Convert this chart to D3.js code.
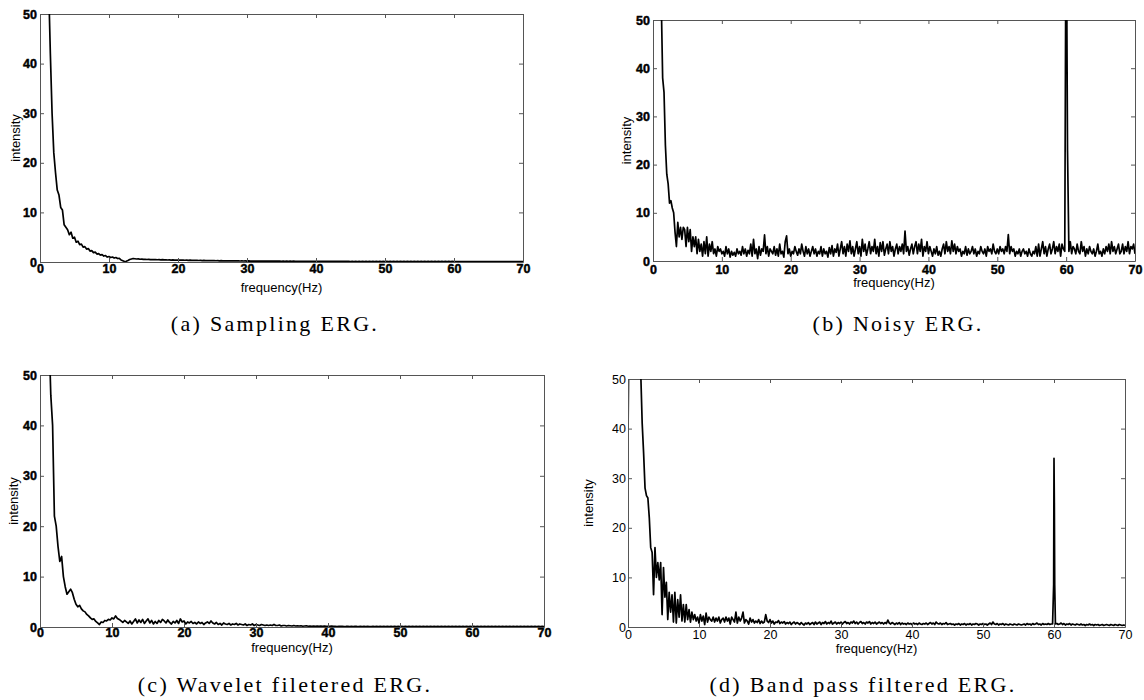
<!DOCTYPE html>
<html><head><meta charset="utf-8">
<script src="https://cdn.jsdelivr.net/npm/d3@7"></script>
<style>body{margin:0;background:#fff}</style>
</head><body>
<svg id="chart" width="1144" height="700"></svg>
<script>
// ---------------- DATA ----------------
const xTicks = [0, 10, 20, 30, 40, 50, 60, 70];
const yTicks = [0, 10, 20, 30, 40, 50];
const xLabel = "frequency(Hz)";
const yLabel = "intensity";
const captions = ["(a) Sampling ERG.", "(b) Noisy ERG.", "(c) Wavelet filetered ERG.", "(d) Band pass filtered ERG."];

// sample spacing (Hz) of each spectrum
const stepA = 0.25, stepB = 0.2, stepC = 0.25, stepD = 0.2;

// (a) Sampling ERG, 0..70 Hz
const sampling = [
120,110,95,85,70,56,42,30,22,18,
14.5,13.5,11,10.5,7.5,7.0,6.5,5.5,6.0,4.8,
5.0,4.0,4.2,3.5,3.6,3.0,3.1,2.6,2.7,2.2,
2.3,1.9,2.0,1.6,1.7,1.4,1.5,1.2,1.3,1.0,
1.1,0.9,1.0,0.8,0.9,0.7,0.75,0.4,0.25,0.1,
0.15,0.3,0.5,0.6,0.7,0.65,0.6,0.62,0.55,0.58,
0.52,0.55,0.5,0.53,0.48,0.5,0.46,0.49,0.45,0.47,0.43,0.46,0.42,0.44,0.4,0.43,0.39,0.41,0.38,0.4,
0.37,0.39,0.36,0.38,0.35,0.37,0.33,0.36,0.32,0.34,0.31,0.33,0.3,0.32,0.29,0.31,0.28,0.3,0.27,0.29,
0.26,0.28,0.25,0.27,0.24,0.26,0.23,0.25,0.23,0.24,0.22,0.24,0.21,0.23,0.21,0.22,0.2,0.22,0.2,0.21,
0.19,0.21,0.19,0.2,0.18,0.2,0.18,0.19,0.17,0.19,0.17,0.18,0.17,0.18,0.16,0.18,0.16,0.17,0.16,0.17,
0.15,0.17,0.15,0.16,0.15,0.16,0.14,0.16,0.14,0.15,0.14,0.15,0.14,0.15,0.13,0.15,0.13,0.14,0.13,0.14,
0.13,0.14,0.12,0.14,0.12,0.13,0.12,0.13,0.12,0.13,0.11,0.13,0.11,0.12,0.11,0.12,0.11,0.12,0.11,0.12,
0.1,0.12,0.1,0.11,0.1,0.11,0.1,0.11,0.1,0.11,0.1,0.11,0.1,0.11,0.1,0.11,0.1,0.11,0.1,0.11,
0.1,0.11,0.1,0.11,0.1,0.11,0.1,0.11,0.1,0.11,0.1,0.11,0.1,0.11,0.1,0.11,0.1,0.11,0.1,0.11,
0.1,0.11,0.1,0.11,0.1,0.11,0.1,0.11,0.1,0.11,0.1,0.11,0.1,0.11,0.1,0.11,0.1,0.11,0.1,0.11,
0.09,0.1,0.09,0.1,0.09,0.1,0.09,0.1,0.09,0.1,0.09,0.1,0.09,0.1,0.09,0.1,0.09,0.1,0.09,0.1,
0.09,0.1,0.09,0.1,0.09,0.1,0.09,0.1,0.09,0.1,0.09,0.1,0.09,0.1,0.09,0.1,0.09,0.1,0.09,0.1,
0.1
];

// (b) Noisy ERG, 0..70 Hz
const noisy = [
150,130,110,95,80,68,54,38,35,24,
18,16,12,12.5,11,10,6,3,8,5,
7,4.5,7,6.5,3,7,4,6.5,2,5,
3,5,1.5,4.5,2,3.5,1,4,1.5,5,
1,3.5,2,4,1.5,2.5,1,3,2,2.5,
1.5,2,1,3,1.5,2.5,0.8,2,1.2,1.8,
1,2.5,1.5,2,1.2,3,1.5,2.5,1,2.2,
1.5,3.5,1,4.5,1.5,2.5,0.5,3,1.2,2.5,
2,5.4,1.5,3,1,2.5,2,1.5,3,1.2,
2.5,1,3.5,1.5,2,0.8,4,5.2,1.5,2.5,
1,2,1.5,3,2,1.2,2.5,1.5,3.5,2,
1,3,1.5,2.5,1,2,3,1.5,2.5,1,
2,1.5,3,1,2.5,1.5,2,0.8,2.8,1.5,
3.2,1,2.5,1.8,3.5,1,2.5,4,1.5,3,
1,3.5,2,4.2,1.5,3,1,2.5,4,1.5,
3,1,4.5,2,3.5,1.2,2.5,4,1.5,3,
2,4.5,1.5,3,1,3.8,2,4,1.2,2.5,
3.5,1.5,4,2,3,1,2.5,3.5,1.5,3,
2,3.5,1.5,6.2,2,3,1.2,2.5,3.5,1.5,
3,4,1.5,3.5,2,4.5,1,3,2,4,
1.5,3,2,1,2.5,1.5,3,1.2,2,1,
2.5,3.5,1.5,4,2,3,1.5,4.2,2,3.5,
1.5,3,2,2.5,1,2,1.5,3,1.2,2.5,
1.5,2,3,1.5,2.5,1,2,1.5,3,2,
1.5,2.5,1,3,2,2.5,1.5,3.5,2,1.5,
2.5,1.5,3,2,2.5,1.5,3,2,5.5,1.5,
3,2,2.5,1,2,1.5,2.5,1,2,2.5,
1.5,2,1,2.5,1.5,1,2,1.5,3,1,
3.5,1,2.5,4,1.5,3,1,2.5,3.5,1.5,
2.5,4,1.5,3,2,3.5,1,3.5,2.5,2,
80,23,2,4,1.5,3,2.5,1.5,3.5,2,
1.5,4,2,3,1,2.5,1.5,3,2,1.5,
2.5,1,2,3.5,1.5,2,1,2.5,1.5,3,
2,3.5,1.5,4,2,3,1.5,2.5,3.5,1.5,
2,3.5,1.5,3,2,4,1.5,3,2.5,3.5,
1.5
];

// (c) Wavelet filtered ERG, 0..70 Hz
const wavelet = [
120,105,95,85,72,58,46,40,
22,20,16,13,14,10,8,6.5,
7,7.5,6.8,5.5,4.5,4,4.3,3.6,
3.2,3,2.5,2.2,1.8,1.5,1.6,1.1,
0.8,0.5,1,0.9,1.3,1.2,1.5,1.4,
1.8,1.6,2.2,1.7,1.5,1.2,0.9,1.3,
1,0.7,1.2,0.6,1.1,1.6,0.8,1.4,
0.9,1.5,0.7,1.2,1.6,0.8,1.3,0.6,
1.1,0.7,1.3,0.9,1.5,1.2,0.8,1.4,
0.9,0.6,1.1,0.8,1.3,0.7,1.6,1.0,
1.2,0.6,1.0,0.8,1.1,0.7,0.9,0.6,
1.0,0.7,0.9,0.5,0.8,1.0,0.7,1.2,
0.8,0.6,0.9,0.5,0.7,0.4,0.8,0.6,
0.5,0.7,0.4,0.6,0.5,0.7,0.4,0.6,
0.5,0.4,0.6,0.3,0.5,0.4,0.6,0.3,
0.5,0.4,0.3,0.5,0.4,0.3,0.4,0.3,
0.4,0.3,0.5,0.3,0.3,0.4,0.2,0.3,
0.3,0.2,0.3,0.25,0.2,0.3,0.2,0.25,
0.2,0.25,0.15,0.2,0.25,0.15,0.2,0.15,
0.2,0.15,0.2,0.12,0.18,0.15,0.2,0.12,
0.15,0.12,0.18,0.12,0.15,0.1,0.15,0.12,
0.15,0.1,0.12,0.15,0.1,0.12,0.1,0.15,
0.12,0.1,0.12,0.1,0.13,0.1,0.12,0.1,
0.1,0.12,0.1,0.11,0.1,0.12,0.1,0.11,
0.1,0.11,0.1,0.12,0.1,0.11,0.1,0.11,
0.1,0.11,0.1,0.11,0.1,0.12,0.1,0.11,
0.1,0.11,0.1,0.11,0.1,0.11,0.1,0.11,
0.1,0.11,0.1,0.11,0.1,0.11,0.1,0.11,
0.1,0.11,0.1,0.11,0.1,0.11,0.1,0.11,
0.1,0.11,0.1,0.11,0.1,0.11,0.1,0.11,
0.1,0.11,0.1,0.11,0.1,0.11,0.1,0.11,
0.1,0.11,0.1,0.11,0.1,0.11,0.1,0.11,
0.1,0.11,0.1,0.11,0.1,0.11,0.1,0.11,
0.1,0.11,0.1,0.11,0.1,0.11,0.1,0.11,
0.1,0.11,0.1,0.11,0.1,0.11,0.1,0.11,
0.1
];

// (d) Band pass filtered ERG, 0..70 Hz
const bandpass = [
38,70,90,95,92,85,75,65,58,51,
41,35,28,26.5,26,22,16,15,6.5,16,
10,13,9.5,13,2.5,12,6,9,1.5,7,
3,6.5,1,7,0.8,5.5,2,6.5,1.2,4.5,
1,4.5,1.5,3.5,1,3,1.5,2.5,1.2,2,
0.8,2.5,1.2,2.2,0.5,2.8,1,2,1.5,1.2,
2,1,1.8,1.2,2,0.8,1.5,1.8,1,2,
1.2,1.8,0.6,2,1.5,1,3,0.8,2,1.2,
1.8,3,0.8,1.5,1.2,0.6,1.8,1,1.5,0.8,
1.2,0.9,1.5,0.7,1.2,0.8,1,2.5,1.2,0.9,
1.5,0.8,1.2,0.6,1,0.9,1.3,0.7,1,0.8,
1.1,0.6,0.9,0.7,1,0.5,0.8,1,0.6,0.9,
0.7,0.5,0.9,0.6,0.4,0.8,0.6,0.9,0.5,0.7,
0.9,0.5,1,0.6,0.8,1,0.5,0.9,0.7,1.1,
0.6,0.9,0.7,1.2,0.6,0.8,1,0.6,0.9,0.7,
1,0.6,0.9,1.1,0.7,0.9,0.6,1,0.8,1.2,
0.7,1,0.6,0.9,1.1,0.7,0.9,0.6,1,0.8,
1.1,0.6,0.9,0.7,1,0.6,0.8,1,0.7,0.9,
0.6,0.9,0.7,1.4,0.8,0.6,0.9,0.7,0.5,0.8,
0.6,0.9,0.5,0.8,0.6,0.7,0.5,0.8,0.6,0.7,
0.5,0.8,0.6,0.7,0.5,0.8,0.6,0.5,0.7,0.6,
0.8,0.5,0.7,0.9,0.6,0.8,0.5,1,0.7,0.6,
0.8,0.5,0.7,0.6,0.9,0.5,0.6,0.7,0.5,0.6,
0.4,0.6,0.5,0.7,0.4,0.6,0.5,0.7,0.4,0.6,
0.5,0.7,0.4,0.6,0.5,0.7,0.6,0.4,0.6,0.5,
0.7,0.5,0.6,0.4,0.6,0.8,0.5,1,0.6,0.5,
0.7,0.4,0.6,0.5,0.7,0.4,0.6,0.5,0.4,0.6,
0.5,0.4,0.6,0.5,0.4,0.6,0.5,0.4,0.5,0.6,
0.4,0.7,0.5,0.6,0.4,0.7,0.5,0.6,0.8,0.5,
0.6,0.4,0.7,0.5,0.6,0.5,0.7,0.5,0.6,0.6,
34,0.6,0.7,0.5,0.6,0.8,0.5,0.7,0.4,0.6,
0.5,0.7,0.4,0.6,0.5,0.4,0.6,0.5,0.4,0.6,
0.4,0.5,0.3,0.5,0.4,0.6,0.4,0.5,0.3,0.5,
0.4,0.5,0.3,0.4,0.5,0.3,0.4,0.5,0.4,0.3,
0.5,0.4,0.3,0.5,0.4,0.3,0.5,0.4,0.3,0.4,
0.3
];
// extra, finer samples of the 60 Hz line in (d)
const bandpassSpikeF = [59.95, 60.05, 60.1];
const bandpassSpikeV = [8.5, 25, 8.5];

// ---------------- LAYOUT ----------------
const panels = [
  {values: sampling, step: stepA, box: [40, 14, 523, 262], bold: true,  xPad: 2.5, ylx: 20,  xly: 292, cap: {cx: 275, y: 331}},
  {values: noisy,    step: stepB, box: [653, 20, 1135, 261], bold: true, xPad: 4,   ylx: 631, xly: 287, cap: {cx: 898, y: 331}},
  {values: wavelet,  step: stepC, box: [40, 375, 544, 627], bold: true, xPad: 1.5, ylx: 18,  xly: 652, cap: {cx: 285, y: 692}},
  {values: bandpass, step: stepD, box: [628, 379, 1125, 627], bold: false, xPad: 3, ylx: 593, xly: 653, cap: {cx: 863, y: 692},
   extraF: bandpassSpikeF, extraV: bandpassSpikeV}
];

const svg = d3.select("#chart");
svg.append("rect").attr("width", 1144).attr("height", 700).attr("fill", "#fff");

panels.forEach((p, k) => {
  const [x0, y0, x1, y1] = p.box;
  const x = d3.scaleLinear().domain([0, 70]).range([x0, x1]);
  const y = d3.scaleLinear().domain([0, 50]).range([y1, y0]);
  let pts = p.values.map((v, i) => [i * p.step, v]);
  if (p.extraF) {
    pts = pts.concat(p.extraF.map((f, i) => [f, p.extraV[i]]));
    pts.sort((a, b) => a[0] - b[0]);
  }
  const g = svg.append("g");

  const clipId = "clip" + k;
  svg.append("clipPath").attr("id", clipId).append("rect")
    .attr("x", x0).attr("y", y0).attr("width", x1 - x0).attr("height", y1 - y0 + 2);

  const tickFont = (sel) => sel.selectAll("text")
    .style("font-family", "'Liberation Sans', Arial, sans-serif")
    .style("font-size", p.bold ? "12.5px" : "12.5px")
    .style("font-weight", p.bold ? "700" : "400")
    .attr("fill", "#000")
    .attr("stroke", p.bold ? "#000" : "none")
    .attr("stroke-width", p.bold ? 0.45 : 0);
  const styleAxis = (sel) => {
    sel.attr("font-family", null).attr("font-size", null);
    sel.select(".domain").attr("stroke", "#555").attr("stroke-width", 1);
    sel.selectAll(".tick line").attr("stroke", "#555");
  };

  // top & right (ticks only)
  g.append("g").attr("transform", `translate(0,${y0})`)
    .call(d3.axisTop(x).tickValues(xTicks).tickSizeInner(-4).tickSizeOuter(0).tickFormat(""))
    .call(styleAxis);
  g.append("g").attr("transform", `translate(${x1},0)`)
    .call(d3.axisRight(y).tickValues(yTicks).tickSizeInner(-4).tickSizeOuter(0).tickFormat(""))
    .call(styleAxis);

  // data line
  const line = d3.line().x(d => x(d[0])).y(d => y(d[1]));
  g.append("path").datum(pts)
    .attr("clip-path", `url(#${clipId})`)
    .attr("fill", "none").attr("stroke", "#000")
    .attr("stroke-width", 1.7).attr("stroke-linejoin", "round")
    .attr("d", line);

  // bottom & left
  g.append("g").attr("transform", `translate(0,${y1})`)
    .call(d3.axisBottom(x).tickValues(xTicks).tickSizeInner(-4).tickSizeOuter(0).tickPadding(p.xPad).tickFormat(d3.format("d")))
    .call(styleAxis).call(tickFont);
  g.append("g").attr("transform", `translate(${x0},0)`)
    .call(d3.axisLeft(y).tickValues(yTicks).tickSizeInner(-4).tickSizeOuter(0).tickPadding(p.bold ? 3 : 2).tickFormat(d3.format("d")))
    .call(styleAxis).call(tickFont);

  // axis titles
  g.append("text").attr("x", (x0 + x1) / 2).attr("y", p.xly)
    .attr("text-anchor", "middle")
    .style("font-family", "'Liberation Sans', Arial, sans-serif").style("font-size", "13px")
    .text(xLabel);
  g.append("text")
    .attr("transform", `translate(${p.ylx},${(y0 + y1) / 2}) rotate(-90)`)
    .attr("text-anchor", "middle")
    .style("font-family", "'Liberation Sans', Arial, sans-serif").style("font-size", "13px")
    .text(yLabel);

  // caption
  svg.append("text")
    .attr("x", p.cap.cx).attr("y", p.cap.y)
    .attr("text-anchor", "middle")
    .style("font-family", "'Liberation Serif', 'DejaVu Serif', serif").style("font-size", "22px")
    .style("letter-spacing", "2.3px")
    .attr("fill", "#000")
    .text(captions[k]);
});
</script>
</body></html>
